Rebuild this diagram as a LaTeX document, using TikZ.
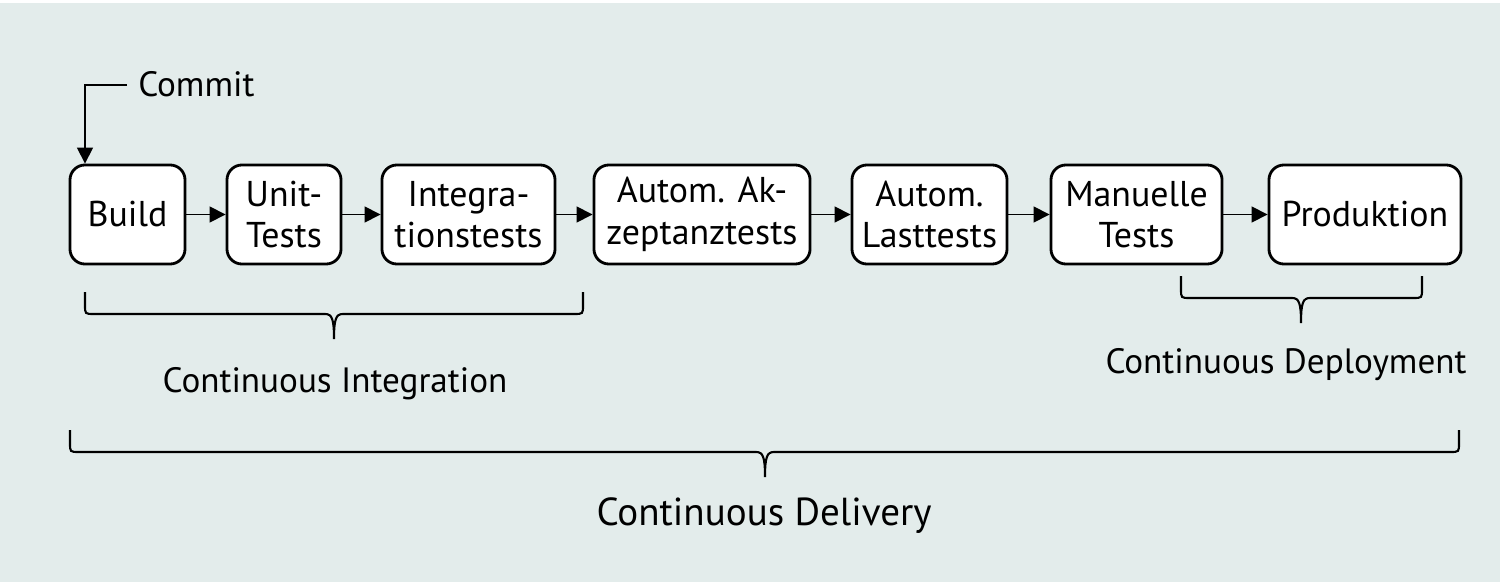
\documentclass[tikz,border=0pt]{standalone}
\usepackage{fontspec}
\setmainfont{PT Sans}
\usetikzlibrary{arrows.meta}

\definecolor{hintergrund}{RGB}{227,236,235}

\tikzset{
  stufe/.style={draw, thick, rounded corners=0.15cm, fill=white, minimum height=0.99cm,
    align=center, inner sep=2pt, font=\fontsize{10.2}{11.8}\selectfont},
  pfeil/.style={-{Triangle[length=4.5pt,width=4.5pt]}, line width=0.45pt},
  klammerlinie/.style={line width=0.6pt},
  beschriftung/.style={font=\fontsize{10}{12}\selectfont}
}

% geschweifte Klammer: linkes x, rechtes x, oberes y, mittleres x
\newcommand{\klammer}[4]{%
  \draw[klammerlinie] (#1,#3) -- (#1,#3+13) .. controls (#1,#3+22) .. (#1+9,#3+22)
    -- (#4-9,#3+22) .. controls (#4-2,#3+22) and (#4,#3+27) .. (#4,#3+47)
    .. controls (#4,#3+27) and (#4+2,#3+22) .. (#4+9,#3+22)
    -- (#2-9,#3+22) .. controls (#2,#3+22) .. (#2,#3+13) -- (#2,#3);}

\begin{document}
\begin{tikzpicture}[x=0.01cm, y=-0.01cm]
  % Hintergrund
  \fill[white] (0,0) rectangle (1500,582);
  \fill[hintergrund] (0,3) rectangle (1500,582);
  \useasboundingbox (0,0) rectangle (1500,582);

  % Stufen der Pipeline
  \node[stufe, minimum width=1.15cm] (build) at (127.5,214.5) {Build};
  \node[stufe, minimum width=1.14cm] (unit) at (284,214.5) {Unit-\\Tests};
  \node[stufe, minimum width=1.73cm] (integ) at (468.5,214.5) {Integra-\\tionstests};
  \node[stufe, minimum width=2.16cm] (akzept) at (702,214.5) {Autom. Ak-\\zeptanztests};
  \node[stufe, minimum width=1.55cm] (last) at (929.5,214.5) {Autom.\\Lasttests};
  \node[stufe, minimum width=1.71cm] (manuell) at (1136.5,214.5) {Manuelle\\Tests};
  \node[stufe, minimum width=1.92cm] (prod) at (1365,214.5) {Produktion};

  % Pfeile zwischen den Stufen
  \draw[pfeil] (build) -- (unit);
  \draw[pfeil] (unit) -- (integ);
  \draw[pfeil] (integ) -- (akzept);
  \draw[pfeil] (akzept) -- (last);
  \draw[pfeil] (last) -- (manuell);
  \draw[pfeil] (manuell) -- (prod);

  % Commit
  \node[beschriftung, anchor=west, inner sep=3pt] (commit) at (127,84) {Commit};
  \coordinate (knick) at (85,85);
  \draw[pfeil] (commit.west |- knick) -- (knick) -- (knick |- build.north);

  % Klammern
  \klammer{85}{583}{292}{334}
  \klammer{1181}{1422}{276}{1301}
  \klammer{70}{1459}{430}{765}

  \node[beschriftung] (ci) at (335,384) {Continuous Integration};
  \node[beschriftung] (cdep) at (1286,365) {Continuous Deployment};
  \node[beschriftung, font=\fontsize{11.1}{13}\selectfont] (cdel) at (764,516) {Continuous Delivery};
\end{tikzpicture}
\end{document}
